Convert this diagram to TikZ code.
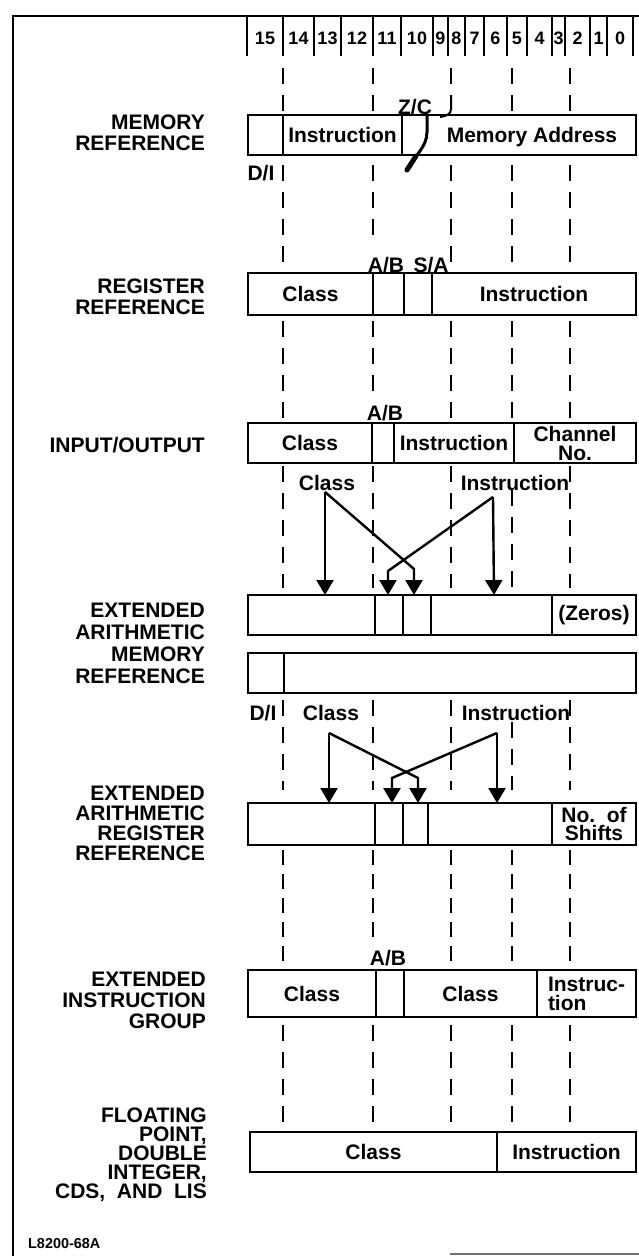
\documentclass[tikz,border=0pt]{standalone}
\usepackage{fontspec}
\setmainfont{Liberation Sans}
\usetikzlibrary{arrows.meta}
\newcommand\labfont{\fontsize{21}{22}\selectfont\bfseries}
\newcommand\bitfont{\fontsize{18}{18}\selectfont\bfseries}
\newcommand\notefont{\fontsize{14.4}{15}\selectfont\bfseries}
% \fieldbox[options]{name}{x left}{x right}{y top}{y bottom}{text}
\newcommand\fieldbox[7][]{%
  \node[fld,#1,minimum width={(#4-#3)*1pt},minimum height={(#6-#5)*1pt}]
    (#2) at ({(#3+#4)/2},{(#5+#6)/2}) {#7};}
\begin{document}
\begin{tikzpicture}[x=1pt,y=-1pt,
  fld/.style={draw,line width=2.4pt,inner sep=0pt,outer sep=0pt,font=\labfont,align=center},
  tag/.style={inner sep=0pt,font=\labfont},
  bit/.style={inner sep=0pt,font=\bitfont},
  rowname/.style={inner sep=0pt,font=\labfont,align=right,anchor=east},
  guide/.style={line width=2pt,dash pattern=on 16pt off 11pt},
  guideshort/.style={line width=2pt,dash pattern=on 15pt off 9pt},
  feed/.style={line width=2.4pt,line join=miter,-{Triangle[width=17pt,length=15pt]}},
  rule/.style={line width=2.4pt}]
\useasboundingbox (0,0) rectangle (639,1256);

% outer frame; its top edge also closes the bit-number ruler
\draw[rule] (12,16) -- (639,16);
\draw[rule] (13,16) -- (13,1256);
\draw[line width=1.5pt,black!55] (450,1254) -- (639,1254);

% bit-number ruler
\foreach \x in {247,283,314,341,373,401,433,448,465,484,507,527,552,565,590,607,633}
  \draw[line width=2.2pt] (\x,16) -- (\x,56);
\foreach \n/\a/\b in {15/247/283,14/283/314,13/314/341,12/341/373,11/373/401,
  10/401/433,9/433/448,8/448/465,7/465/484,6/484/507,5/507/527,4/527/552,
  3/552/565,2/565/590,1/590/607,0/607/633}
  \node[bit] (b\n) at ({(\a+\b)/2},38) {\n};

% octal-group guide lines
\foreach \x in {283,373,512,570} \draw[guide] (\x,68) -- (\x,112);
\draw[guide] (451,68) -- (451,86);
\draw[line width=2pt] (451,95) -- (451,109) .. controls (451,114) and (447,116) .. (440,117);
\foreach \x in {283,451,512,570} \draw[guide] (\x,165) -- (\x,272);
\draw[guide] (373,165) -- (373,236);
\foreach \x in {283,451,512,570} \draw[guide] (\x,321) -- (\x,418);
\draw[guide] (373,321) -- (373,399);
\foreach \x in {283,373,451,570} \draw[guide] (\x,466) -- (\x,588);
\draw[guide] (512,490) -- (512,588);
\foreach \x in {283,373,451,570} \draw[guide] (\x,700) -- (\x,790);
\draw[guide] (512,722) -- (512,790);
\foreach \x in {283,451,512,570} \draw[guideshort] (\x,850) -- (\x,961);
\draw[guideshort] (373,850) -- (373,937);
\foreach \x in {283,373,451,512,570} \draw[guide] (\x,1025) -- (\x,1123);

% memory reference
\node[rowname] (lmr) at (205,133) {MEMORY\\[-1pt]REFERENCE};
\fieldbox{mr1}{248}{283}{115}{155}{}
\fieldbox{mr2}{283}{402}{115}{155}{Instruction}
\fieldbox{mr3}{402}{636}{115}{155}{}
\node[tag] (mra) at (532,137) {Memory Address};
\node[tag] (zc) at (415,107) {Z/C};
\node[tag] (di1) at (261,173) {D/I};
\draw[line width=3pt,line cap=round] (427,115) -- (427,132) .. controls (427,147) and (415,155) .. (407,170);
\draw[line width=5pt,line cap=round] (416,156) -- (407,170);

% register reference
\node[rowname] (lrr) at (205,297) {REGISTER\\[-1pt]REFERENCE};
\fieldbox{rr1}{248}{373}{273}{315}{Class}
\fieldbox{rr2}{373}{404}{273}{315}{}
\fieldbox{rr3}{404}{432}{273}{315}{}
\fieldbox{rr4}{432}{636}{273}{315}{Instruction}
\node[tag] (ab1) at (386,265) {A/B};
\node[tag] (sa1) at (431,265) {S/A};

% input/output
\node[rowname] (lio) at (205,445) {INPUT/OUTPUT};
\fieldbox{io1}{248}{372}{423}{463}{Class}
\fieldbox{io2}{372}{394}{423}{463}{}
\fieldbox{io3}{394}{514}{423}{463}{Instruction}
\fieldbox{io4}{514}{636}{423}{463}{Channel\\[-3pt]No.}
\node[tag] (ab2) at (385,413) {A/B};

% fields carried into the extended arithmetic memory reference word
\node[tag] (c1) at (327,483) {Class};
\node[tag] (i1) at (515,483) {Instruction};
\coordinate (ca) at (325,492);
\coordinate (ia) at (493,497);
\coordinate (ta1) at (325,595);
\coordinate (ta2) at (414,595);
\coordinate (ta3) at (494,595);
\coordinate (ta4) at (388,595);
\draw[feed] (ca) -- (ta1);
\draw[feed] (ca) -- (414,569) -- (ta2);
\draw[feed] (ia) -- (ta3);
\draw[feed] (ia) -- (388,571) -- (ta4);

% extended arithmetic memory reference (two words)
\node[rowname] (lem) at (205,643) {EXTENDED\\ARITHMETIC\\MEMORY\\REFERENCE};
\fieldbox{ea1}{248}{375}{595}{635}{}
\fieldbox{ea2}{375}{403}{595}{635}{}
\fieldbox{ea3}{403}{431}{595}{635}{}
\fieldbox{ea4}{431}{552}{595}{635}{}
\fieldbox{ea5}{552}{636}{595}{635}{(Zeros)}
\fieldbox{em1}{248}{284}{653}{693}{}
\fieldbox{em2}{284}{636}{653}{693}{}

% fields carried into the extended arithmetic register reference word
\node[tag] (di2) at (263,713) {D/I};
\node[tag] (c2) at (331,713) {Class};
\node[tag] (i2) at (516,713) {Instruction};
\coordinate (cb) at (329,733);
\coordinate (ib) at (497,733);
\coordinate (tb1) at (329,803);
\coordinate (tb2) at (418,803);
\coordinate (tb3) at (497,803);
\coordinate (tb4) at (392,803);
\draw[feed] (cb) -- (tb1);
\draw[feed] (cb) -- (418,778) -- (tb2);
\draw[feed] (ib) -- (tb3);
\draw[feed] (ib) -- (392,778) -- (tb4);

% extended arithmetic register reference
\node[rowname] (ler) at (205,823) {EXTENDED\\[-2pt]ARITHMETIC\\[-2pt]REGISTER\\[-2pt]REFERENCE};
\fieldbox{er1}{248}{375}{803}{845}{}
\fieldbox{er2}{375}{403}{803}{845}{}
\fieldbox{er3}{403}{428}{803}{845}{}
\fieldbox{er4}{428}{552}{803}{845}{}
\fieldbox{er5}{552}{636}{803}{845}{No.\ \ of\\[-4pt]Shifts}

% extended instruction group
\node[rowname] (leg) at (206,1000) {EXTENDED\\[-1pt]INSTRUCTION\\[-1pt]GROUP};
\fieldbox{eg1}{248}{376}{970}{1017}{Class}
\fieldbox{eg2}{376}{404}{970}{1017}{}
\fieldbox{eg3}{404}{537}{970}{1017}{Class}
\fieldbox[align=left]{eg4}{537}{636}{970}{1017}{Instruc-\\[-3pt]tion}
\node[tag] (ab3) at (388,958) {A/B};

% floating point, double integer, CDS and LIS
\node[rowname] (lfp) at (207,1155) {FLOATING\\[-3pt]POINT,\\[-3pt]DOUBLE\\[-3pt]INTEGER,\\[-3pt]CDS,\ \ AND\ \ LIS};
\fieldbox{fp1}{250}{497}{1132}{1172}{Class}
\fieldbox{fp2}{497}{636}{1132}{1172}{Instruction}

% drawing number
\node[inner sep=0pt,font=\notefont,anchor=base west] (ref) at (28,1248) {L8200-68A};
\end{tikzpicture}
\end{document}
